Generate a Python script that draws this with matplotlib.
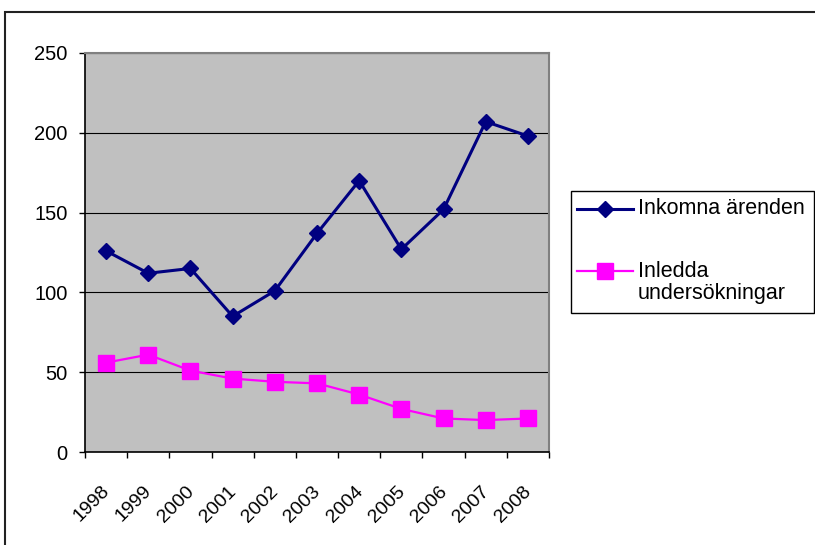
import matplotlib
matplotlib.use("Agg")
import matplotlib.pyplot as plt
from matplotlib.lines import Line2D
from matplotlib.patches import Rectangle
from matplotlib.transforms import ScaledTranslation
import numpy as np

# Data
years = ["1998", "1999", "2000", "2001", "2002", "2003",
         "2004", "2005", "2006", "2007", "2008"]
inkomna = [126, 112, 115, 85, 101, 137, 170, 127, 152, 207, 198]
inledda = [56, 61, 51, 46, 44, 43, 36, 27, 21, 20, 21]
series_labels = ["Inkomna ärenden", "Inledda\nundersökningar"]
y_ticks = [0, 50, 100, 150, 200, 250]

plt.rcParams['font.family'] = ['Liberation Sans', 'DejaVu Sans']

W, H = 815, 545
fig = plt.figure(figsize=(W / 100, H / 100), dpi=100)


def box(x0, y0, x1, y1):
    """Pixel box (top-left origin) -> figure fraction rect."""
    return [x0 / W, 1 - y1 / H, (x1 - x0) / W, (y1 - y0) / H]


# Outer chart frame
fig.add_artist(Rectangle((5 / W, -0.1), 1.2, 1 - 12 / H + 0.1,
                         transform=fig.transFigure, fill=False,
                         edgecolor='#222222', lw=1.5))

ax = fig.add_axes(box(85, 53, 549, 452))
ax.set_facecolor('#C0C0C0')

x = np.arange(len(years))
navy, magenta = '#000080', '#FF00FF'
styles = [(navy, 'D', 8.5, 2.2), (magenta, 's', 11, 1.6)]
for (col, mk, ms, lw), vals in zip(styles, [inkomna, inledda]):
    ax.plot(x, vals, color=col, lw=lw, marker=mk, ms=ms, zorder=3)

ax.set_xlim(-0.5, len(years) - 0.5)
ax.set_ylim(0, 250)
ax.set_yticks(y_ticks)
ax.set_yticklabels([str(v) for v in y_ticks])
ax.yaxis.grid(True, color='black', lw=0.8)
ax.set_axisbelow(True)

ax.set_xticks(x)
ax.set_xticklabels(years, rotation=45, ha='right', va='top',
                   rotation_mode='anchor')
ax.set_xticks(np.arange(len(years) + 1) - 0.5, minor=True)
ax.tick_params(axis='x', which='major', length=0, pad=22, labelsize=14)
ax.tick_params(axis='x', which='minor', length=4.5, width=1, direction='out')
ax.tick_params(axis='y', length=4.5, width=1, pad=8, labelsize=14.5)
shift = ScaledTranslation(-5 / 100, 0, fig.dpi_scale_trans)
for lbl in ax.get_xticklabels():
    lbl.set_transform(lbl.get_transform() + shift)

for side in ('left', 'bottom'):
    ax.spines[side].set_color('black')
    ax.spines[side].set_linewidth(1.2)
for side in ('top', 'right'):
    ax.spines[side].set_color('#808080')
    ax.spines[side].set_linewidth(1.5)

# Legend box
fig.add_artist(Rectangle((571 / W, 1 - 313 / H), (814 - 571) / W,
                         (313 - 191) / H, transform=fig.transFigure,
                         facecolor='white', edgecolor='black', lw=1))
legend_rows = [209, 271]
line_step = 22
for (col, mk, ms, lw), yc, label in zip(styles, legend_rows, series_labels):
    yf = 1 - yc / H
    fig.add_artist(Line2D([577 / W, 633 / W], [yf, yf], color=col, lw=lw,
                          transform=fig.transFigure))
    fig.add_artist(Line2D([605 / W], [yf], color=col, marker=mk, ms=ms,
                          transform=fig.transFigure))
    for i, part in enumerate(label.split('\n')):
        fig.text(638 / W, 1 - (yc + i * line_step) / H, part,
                 fontsize=15.5, ha='left', va='center')

fig.savefig('out.png', dpi=100)
